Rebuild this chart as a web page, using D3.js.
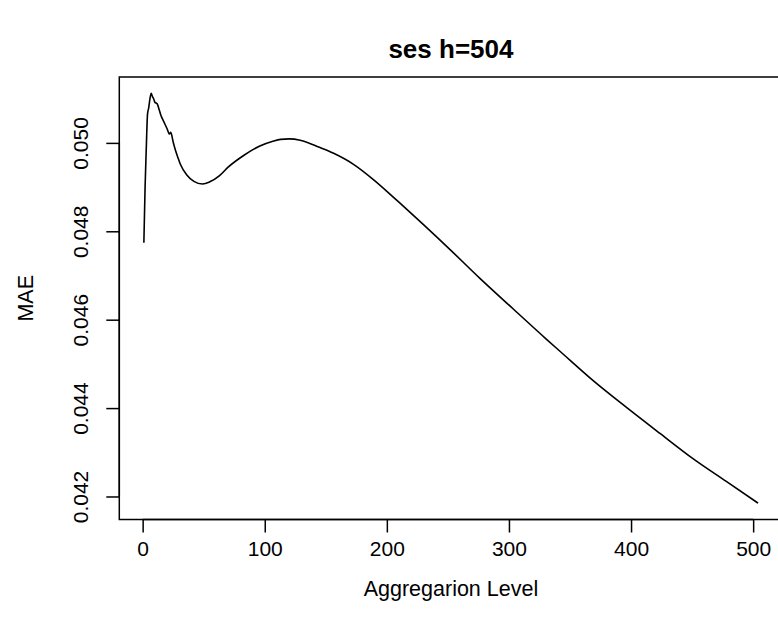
<!DOCTYPE html>
<html>
<head>
<meta charset="utf-8">
<script src="https://cdn.jsdelivr.net/npm/d3@7/dist/d3.min.js"></script>
<style>
  html, body { margin: 0; padding: 0; background: #fff; }
  svg { display: block; font-family: "Liberation Sans", Arial, Helvetica, sans-serif; }
</style>
</head>
<body>
<svg id="chart" width="778" height="633"></svg>
<script>
// Data
const aggLevel = [1, 2, 3, 4, 5, 6, 7, 8, 9, 10, 12, 13, 15, 17, 20, 22, 23, 25, 27, 29, 31, 36, 42, 49, 55, 63, 70, 83, 96, 106, 113, 120, 129, 136, 143, 156, 173, 189, 205, 211, 230, 252, 276, 304, 331, 342, 369, 396, 424, 451, 478, 504];
const mae = [0.04774, 0.04900, 0.04990, 0.05065, 0.05080, 0.05100, 0.05112, 0.05105, 0.05100, 0.05092, 0.05088, 0.05080, 0.05062, 0.05050, 0.05032, 0.05020, 0.05024, 0.05002, 0.04982, 0.04966, 0.04951, 0.04928, 0.04913, 0.04907, 0.04912, 0.04926, 0.04945, 0.04972, 0.04993, 0.05003, 0.05008, 0.05009, 0.05006, 0.05000, 0.04992, 0.04977, 0.04951, 0.04917, 0.04878, 0.04863, 0.04815, 0.04758, 0.04694, 0.04623, 0.04555, 0.04528, 0.04462, 0.04402, 0.04342, 0.04285, 0.04234, 0.04185];
const xTicks = [0, 100, 200, 300, 400, 500];
const yTicks = [0.042, 0.044, 0.046, 0.048, 0.050];
const titleText = "ses h=504";
const xLabel = "Aggregarion Level";
const yLabel = "MAE";

const svg = d3.select("#chart");
const plot = { left: 119.3, right: 782.6, top: 77, bottom: 519.5 };

// R-style 4% range extension
function ext(arr) {
  const [a, b] = d3.extent(arr);
  const d = (b - a) * 0.04;
  return [a - d, b + d];
}

const x = d3.scaleLinear().domain(ext(aggLevel)).range([plot.left, plot.right]);
const y = d3.scaleLinear().domain(ext(mae)).range([plot.bottom, plot.top]);

const data = aggLevel.map((d, i) => ({ x: d, y: mae[i] }));

// line
svg.append("path")
  .datum(data)
  .attr("fill", "none")
  .attr("stroke", "#000")
  .attr("stroke-width", 1.6)
  .attr("stroke-linejoin", "round")
  .attr("d", d3.line().x(d => x(d.x)).y(d => y(d.y)).curve(d3.curveMonotoneX));

// box
svg.append("rect")
  .attr("x", plot.left).attr("y", plot.top)
  .attr("width", plot.right - plot.left).attr("height", plot.bottom - plot.top)
  .attr("fill", "none").attr("stroke", "#000").attr("stroke-width", 1.5);

// x axis
const xAxis = d3.axisBottom(x).tickValues(xTicks).tickSize(13).tickPadding(24).tickFormat(d3.format("d"));
const gx = svg.append("g").attr("transform", `translate(0,${plot.bottom})`).call(xAxis);
gx.select(".domain").attr("d", `M${x(0)},0H${x(500)}`).attr("stroke-width", 1.5);
gx.selectAll(".tick line").attr("stroke-width", 1.5);
gx.selectAll(".tick text").attr("font-size", 21).attr("fill", "#000")
  .attr("font-family", "Liberation Sans, Arial, sans-serif").attr("dy", "0.71em").attr("y", 22);

// y axis
const yAxis = d3.axisLeft(y).tickValues(yTicks).tickSize(13).tickFormat(d3.format(".3f"));
const gy = svg.append("g").attr("transform", `translate(${plot.left},0)`).call(yAxis);
gy.select(".domain").attr("d", `M0,${y(0.042)}V${y(0.050)}`).attr("stroke-width", 1.5);
gy.selectAll(".tick line").attr("stroke-width", 1.5);
gy.selectAll(".tick text")
  .attr("font-size", 21).attr("fill", "#000")
  .attr("font-family", "Liberation Sans, Arial, sans-serif")
  .attr("x", null).attr("dy", null)
  .attr("text-anchor", "middle")
  .attr("transform", "translate(-31,0) rotate(-90)");

// title
svg.append("text")
  .attr("x", (plot.left + plot.right) / 2).attr("y", 58)
  .attr("text-anchor", "middle").attr("font-weight", "bold").attr("font-size", 26)
  .text(titleText);

// x label
svg.append("text")
  .attr("x", (plot.left + plot.right) / 2).attr("y", 596)
  .attr("text-anchor", "middle").attr("font-size", 21.5)
  .text(xLabel);

// y label
svg.append("text")
  .attr("transform", `translate(33,${(plot.top + plot.bottom) / 2}) rotate(-90)`)
  .attr("text-anchor", "middle").attr("font-size", 21.5)
  .text(yLabel);
</script>
</body>
</html>
